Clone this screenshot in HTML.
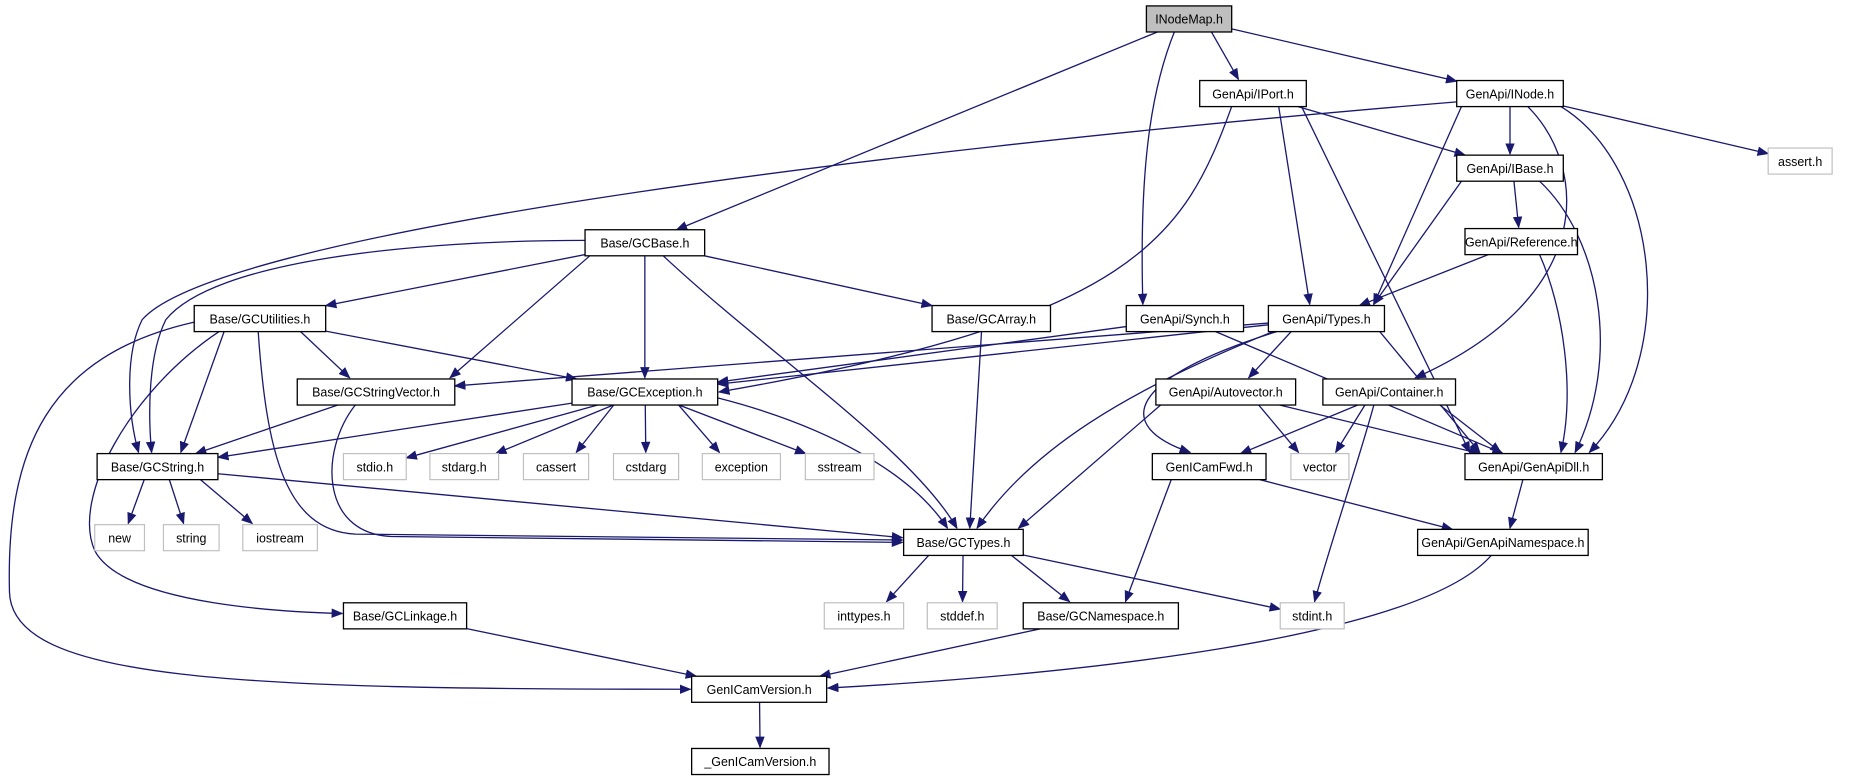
<!DOCTYPE html>
<html><head><meta charset="utf-8"><style>
html,body{margin:0;padding:0;background:#fff;}
svg{display:block;}
text{font-family:"Liberation Sans",sans-serif;font-size:10.5px;fill:#000;text-anchor:middle;}
</style></head><body>
<svg id="g" width="1857" height="784" viewBox="0 0 1568 662" preserveAspectRatio="none" xmlns="http://www.w3.org/2000/svg">
<defs><marker id="a" markerUnits="userSpaceOnUse" markerWidth="10" markerHeight="8" refX="9" refY="4" orient="auto"><path d="M0,0 L10,4 L0,8 z" fill="#191970"/></marker></defs>
<g id="edges"></g>
<g id="nodes"></g>
</svg>
<script>
var N={
INodeMap:[968,5,72,"INodeMap.h",2],
IPort:[1013,68,90,"GenApi/IPort.h"],
INode:[1230,68,90,"GenApi/INode.h"],
assert:[1493,125,54,"assert.h",1],
IBase:[1230,131,90,"GenApi/IBase.h"],
Reference:[1237,193,95,"GenApi/Reference.h"],
GCBase:[494,194,101,"Base/GCBase.h"],
GCUtilities:[164,258,111,"Base/GCUtilities.h"],
GCArray:[787,258,100,"Base/GCArray.h"],
Synch:[951,258,99,"GenApi/Synch.h"],
Types:[1071,258,98,"GenApi/Types.h"],
GCStringVector:[251,320,133,"Base/GCStringVector.h"],
GCException:[483,320,123,"Base/GCException.h"],
Autovector:[976,320,118,"GenApi/Autovector.h"],
Container:[1117,320,112,"GenApi/Container.h"],
GCString:[82,383,102,"Base/GCString.h"],
stdio:[290,383,53,"stdio.h",1],
stdarg:[363,383,58,"stdarg.h",1],
cassert:[442,383,55,"cassert",1],
cstdarg:[518,383,55,"cstdarg",1],
exception:[593,383,66,"exception",1],
sstream:[680,383,58,"sstream",1],
GenICamFwd:[973,383,96,"GenICamFwd.h"],
vector:[1090,383,49,"vector",1],
GenApiDll:[1237,383,116,"GenApi/GenApiDll.h"],
new_:[80,443,42,"new",1],
string:[138,443,47,"string",1],
iostream:[205,443,63,"iostream",1],
GCTypes:[763,447,101,"Base/GCTypes.h"],
GenApiNamespace:[1197,447,144,"GenApi/GenApiNamespace.h"],
inttypes:[696,509,67,"inttypes.h",1],
stddef:[783,509,59,"stddef.h",1],
GCNamespace:[864,509,131,"Base/GCNamespace.h"],
stdint:[1081,509,54,"stdint.h",1],
GCLinkage:[290,509,104,"Base/GCLinkage.h"],
GenICamVersion:[584,571,114,"GenICamVersion.h"],
_GenICamVersion:[584,632,116,"_GenICamVersion.h"]
};
var H=22;
var E=[
["INodeMap","GCBase"],["INodeMap","IPort"],["INodeMap","INode"],
["IPort","IBase"],["IPort","Types"],["IPort","GenApiDll"],
["INode","IBase"],["INode","Types"],["INode","assert"],
["IBase","Reference"],["IBase","Types"],
["Reference","Types"],
["GCBase","GCUtilities"],["GCBase","GCStringVector"],["GCBase","GCException"],["GCBase","GCArray"],
["GCUtilities","GCString"],["GCUtilities","GCStringVector"],["GCUtilities","GCException"],
["GCArray","GCTypes"],["Synch","GCException"],["Synch","GenApiDll"],
["Types","GCStringVector"],["Types","GCException"],["Types","Autovector"],["Types","GenApiDll"],
["GCStringVector","GCString"],
["GCException","GCString"],["GCException","stdio"],["GCException","stdarg"],["GCException","cassert"],["GCException","cstdarg"],["GCException","exception"],["GCException","sstream"],
["Autovector","GCTypes"],["Autovector","vector"],["Autovector","GenApiDll"],
["Container","GenICamFwd"],["Container","vector"],["Container","GenApiDll"],
["GCString","new_"],["GCString","string"],["GCString","iostream"],
["GenICamFwd","GenApiNamespace"],["GenICamFwd","GCNamespace"],["GenApiDll","GenApiNamespace"],
["GCTypes","inttypes"],["GCTypes","stddef"],["GCTypes","GCNamespace"],["GCTypes","stdint"],
["GCLinkage","GenICamVersion"],["GCNamespace","GenICamVersion"],["GenICamVersion","_GenICamVersion"]
];
var P=[
"M164,272 C40,300 5,380 8,500 C10,575 200,582 583,582",
"M185,280 C110,330 60,420 80,465 C105,512 250,517 289,518",
"M218,280 C225,380 240,448 300,451 L762,456",
"M300,342 C270,380 270,450 330,453 L762,458",
"M184,400 L762,454",
"M494,203 C350,203 180,220 140,270 C125,300 125,350 128,382",
"M1230,86 C700,130 180,200 120,270 C105,300 108,350 117,382",
"M606,336 C700,360 770,400 800,446",
"M560,216 C650,300 770,380 808,446",
"M1075,280 C950,330 870,380 825,446",
"M1078,280 C950,320 940,360 1005,382",
"M1040,90 C1000,200 960,270 607,331",
"M992,26 C970,80 962,150 965,257",
"M1160,342 C1150,380 1120,470 1110,508",
"M1290,90 C1340,140 1350,250 1195,319",
"M1318,90 C1400,140 1420,300 1342,382",
"M1300,153 C1350,200 1370,300 1330,382",
"M1300,215 C1320,260 1330,330 1318,382",
"M1260,468 C1200,540 900,570 699,581"
];
var ns="http://www.w3.org/2000/svg";
function el(t,a,p){var e=document.createElementNS(ns,t);for(var k in a)e.setAttribute(k,a[k]);p.appendChild(e);return e;}
var ng=document.getElementById("nodes"),eg=document.getElementById("edges");
for(var k in N){var n=N[k];
 el("rect",{x:n[0],y:n[1],width:n[2],height:H,fill:n[4]==2?"#bfbfbf":"#fff",stroke:n[4]==1?"#bfbfbf":"#000","stroke-width":n[4]==1?1:1.1},ng);
 var t=el("text",{x:n[0]+n[2]/2,y:n[1]+15},ng);t.textContent=n[3];}
function clamp(v,a,b){return Math.max(a,Math.min(b,v));}
function clip(n,dx,dy){var hw=n[2]/2,hh=H/2;var s=Math.min(dx?hw/Math.abs(dx):1e9,dy?hh/Math.abs(dy):1e9);return [dx*s,dy*s];}
var st={stroke:"#191970","stroke-width":1.1,fill:"none","marker-end":"url(#a)"};
function draw(d){var o={};for(var k in st)o[k]=st[k];o.d=d;el("path",o,eg);}
E.forEach(function(e){var a=N[e[0]],b=N[e[1]];
 var ax=a[0]+a[2]/2,ay=a[1]+H/2,bx=b[0]+b[2]/2,by=b[1]+H/2;
 var dx=bx-ax,dy=by-ay;
 if(Math.abs(dy)*2.2<Math.abs(dx)){var p=clip(a,dx,dy),q=clip(b,-dx,-dy);
  draw("M"+(ax+p[0])+","+(ay+p[1])+" L"+(bx+q[0])+","+(by+q[1]));return;}
 var sx=ax+clamp(dx*0.35,-a[2]/2+4,a[2]/2-4);
 var tx=bx+clamp((sx-bx)*0.35,-b[2]/2+4,b[2]/2-4);
 draw("M"+sx+","+(a[1]+H)+" L"+tx+","+(b[1]-1));
});
P.forEach(draw);
</script>
</body></html>
